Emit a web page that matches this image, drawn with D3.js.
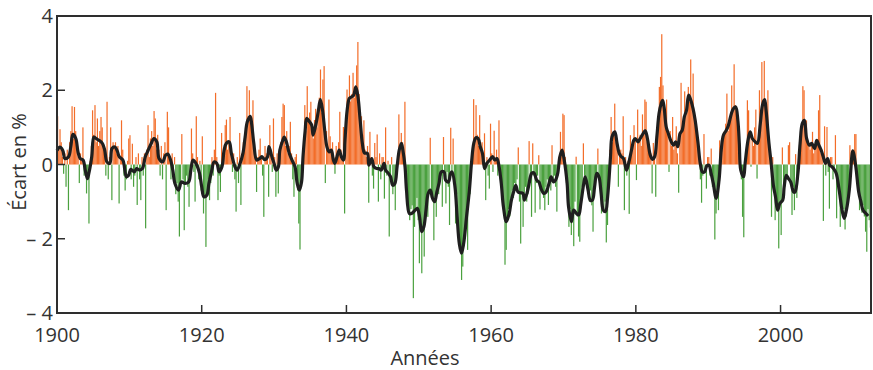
<!DOCTYPE html>
<html>
<head>
<meta charset="utf-8">
<script src="https://cdn.jsdelivr.net/npm/d3@7"></script>
<style>
  body { margin: 0; background: #fff; }
  text { font-family: "Open Sans", sans-serif; fill: #333; }
</style>
</head>
<body>
<div id="chart"></div>
<script>
// ticks
const xTicks = [1900, 1920, 1940, 1960, 1980, 2000];
const yTicks = [-4, -2, 0, 2, 4];

// bimonthly deviations (6 bars per year, from 1900), one line per year
const barStart = 1900;
const barsPerYear = 6;
const barValues = [
  1.30, 0.40, 0.95, 0.60, 0.20, -0.25,
  0.30, -0.60, 0.40, -1.23, 0.60, 0.90,
  1.57, 0.70, 1.55, 0.90, 0.40, 0.20,
  -0.50, 0.30, 0.10, 1.00, -0.30, -0.10,
  -0.78, -0.40, -1.59, 0.10, 0.50, 1.46,
  0.80, 1.60, 0.60, 1.24, 0.50, 0.90,
  1.28, 1.00, 0.40, 0.20, -0.30, 1.69,
  -0.40, 0.20, 1.00, -0.96, 0.60, 0.50,
  0.60, 0.30, 0.50, -1.05, 0.20, 1.19,
  0.40, -0.30, -0.70, -0.40, 0.10, 0.70,   // 1909
  0.79, -0.40, 0.56, -0.60, -0.30, 0.20,
  -1.09, 0.30, -0.40, -0.96, 0.20, -0.30,
  0.30, -1.72, 0.40, 1.06, 0.20, 0.70,
  0.90, 0.50, 1.44, 1.24, 0.40, 0.80,
  0.40, -0.30, 0.50, -0.40, 0.30, 0.60,
  -1.23, 1.42, 1.00, 0.20, -0.40, 0.30,
  -0.40, 0.20, -0.80, -0.50, -1.00, -1.94,
  -0.60, 0.82, -0.40, -1.77, -0.50, -0.30,
  -0.60, -1.14, -0.20, 0.97, 0.30, -0.20,
  -1.00, 1.30, 0.20, -0.40, 0.10, -0.70,   // 1919
  0.76, -1.32, -0.90, -2.22, -0.80, -0.40,
  -0.96, -0.50, 0.20, -0.30, 0.40, 1.93,
  0.20, -0.96, -0.30, -0.74, 0.85, 0.30,
  0.30, 1.06, 1.21, 0.40, 0.60, 1.28,
  0.50, -0.20, 0.30, -0.40, -1.27, 0.20,
  -0.50, 0.85, -1.09, 0.30, 0.60, 0.40,
  0.90, 2.11, 1.30, 2.00, 1.20, 0.90,
  1.73, 0.60, 0.30, -0.74, 0.20, 0.40,
  0.70, 0.20, -0.30, -1.41, 0.50, 0.30,
  0.30, -0.87, 1.06, 0.40, -0.20, 1.24,   // 1929
  0.20, -0.87, 0.30, -0.78, 0.40, 0.60,
  1.28, 1.64, 1.60, 0.50, 0.90, 0.30,
  0.50, 1.15, 0.30, -0.40, -0.87, 0.20,
  0.28, -0.70, -1.59, -2.29, -0.60, 0.10,
  0.40, 1.60, 0.90, 2.11, 1.20, 1.40,
  1.69, 1.00, 0.70, 1.20, 1.50, 1.00,
  1.50, 1.80, 2.56, 1.40, 2.29, 2.65,
  -0.50, 0.90, 0.40, 1.75, 0.76, 0.30,
  0.60, 0.20, -0.25, 0.50, 0.30, 0.60,
  1.42, 0.40, 0.20, 1.01, -1.32, 0.80,   // 1939
  2.02, 1.60, 2.40, 1.70, 1.90, 2.47,
  1.80, 2.10, 2.67, 3.30, 1.90, 1.40,
  1.30, 0.80, 1.19, 0.40, 0.20, 0.50,
  -1.03, 0.88, 0.20, -0.30, -0.65, 0.58,
  0.20, 0.81, -1.00, 0.30, -0.40, 0.20,
  0.20, -0.92, 1.00, -0.30, 0.10, -1.94,
  -0.40, 0.20, -0.80, -0.60, -1.23, -0.20,
  0.30, 1.35, 0.40, 0.85, 0.60, 0.20,
  1.69, -0.60, -0.90, -1.20, -1.50, -1.20,
  -1.10, -3.60, -1.68, -1.20, -0.90, -1.50,   // 1949
  -2.66, -1.50, -2.93, -1.70, -2.48, -1.30,
  -1.00, -1.41, -0.70, 0.72, -0.90, -0.80,
  -2.04, -0.90, -1.41, -0.60, -0.80, -0.30,
  -0.30, -1.14, 0.74, -0.40, -1.05, -0.20,
  -0.60, -1.63, 0.99, -0.30, 0.70, -0.50,
  -1.59, -0.80, -1.50, -1.90, -2.30, -3.11,
  -2.75, -2.20, -2.00, -1.50, -2.30, -0.90,
  -0.80, -0.20, 0.30, 1.76, 0.60, 1.60,
  0.80, 0.50, 1.33, 0.40, 0.60, 0.20,
  0.84, -0.96, 0.20, -0.30, -0.65, 1.10,   // 1959
  0.30, -0.20, 0.91, 0.10, 0.40, -0.30,
  1.19, -0.40, -0.60, -1.00, -1.30, -2.70,
  -2.30, -1.50, -1.20, -1.40, -0.90, -0.70,
  -0.90, -0.50, -0.70, -0.40, 0.46, -1.00,
  -2.13, -0.80, -1.68, -0.90, -0.60, -1.00,
  -0.80, 0.63, -0.50, -1.41, 0.57, -0.30,
  -1.30, -0.50, -0.30, 0.25, -1.21, -0.60,
  -0.70, -0.90, -1.23, -0.60, -0.40, -1.09,
  -0.40, -0.70, 0.52, -0.50, -0.30, -0.60,
  -1.27, -0.30, 0.20, 0.88, 0.40, 1.37,   // 1969
  1.33, 0.20, -0.50, -0.80, -1.68, -1.20,
  -1.90, -1.30, -2.20, -1.00, 0.21, -1.40,
  -1.94, -2.08, -1.00, -0.60, 0.57, -0.30,
  -0.40, -0.60, -0.80, -1.00, -0.70, -1.10,
  -1.81, -0.70, -0.50, -0.30, 0.43, -0.40,
  -0.60, -1.32, -0.90, -1.20, -1.00, -2.10,
  -1.63, -0.30, 0.40, 1.28, 0.60, 0.90,
  1.64, 0.60, 0.50, -0.60, 0.30, 0.40,
  0.30, 1.30, -1.23, 0.20, -0.30, 0.10,
  -1.33, 0.79, 0.40, 0.60, 1.06, 0.70,   // 1979
  -0.42, 1.48, 0.60, 0.80, 0.50, 1.35,
  0.80, 1.75, 1.69, 0.60, 0.40, 0.30,
  0.30, -0.78, 0.58, 0.20, -0.87, 0.90,
  1.20, 2.09, 2.36, 3.51, 2.13, 1.50,
  1.00, 1.75, 0.80, -0.20, 0.90, 0.50,
  1.28, 0.40, 0.60, 1.03, 0.30, -0.76,
  0.80, 2.20, 0.90, 1.20, 1.97, 1.30,
  1.40, 2.09, 1.70, 2.83, 1.60, 2.45,
  1.30, 1.19, 0.80, 0.50, 0.20, -0.40,
  -1.03, -0.30, 0.82, -0.20, -0.65, 0.20,   // 1989
  0.20, -0.30, 0.43, -0.60, -0.40, -2.02,
  -1.32, -0.60, -1.23, 0.65, 0.40, 0.60,
  0.70, 0.90, 1.10, 1.91, 0.90, 1.20,
  1.30, 2.13, 1.50, 2.70, 1.60, 1.40,
  1.30, 0.50, 0.20, -0.40, -1.41, -1.96,
  -0.20, 0.40, 1.73, 1.46, 0.80, -0.06,
  0.70, 0.50, 1.00, 1.48, -0.38, 0.60,
  2.00, 1.30, 2.76, 1.60, 2.79, 1.40,
  1.20, 2.00, 0.60, 0.30, -1.41, 0.20,
  -0.60, -1.50, -0.90, -1.10, -2.26, -1.00,   // 1999
  -1.90, 0.46, -0.90, -0.60, -0.30, -0.40,
  0.52, 0.60, -0.50, -1.36, -0.60, -1.23,
  0.28, -0.90, -0.40, 0.30, 0.70, 0.90,
  2.11, 2.00, 1.00, 1.19, 0.60, 0.50,
  0.40, 0.60, 0.88, 0.30, 0.50, 0.67,
  0.60, 1.46, 1.87, 0.30, 0.40, -1.52,
  1.03, -0.30, 1.01, -0.20, -1.19, 0.20,
  0.20, -0.40, -0.20, 0.79, -1.45, -0.50,
  -0.80, -1.68, -1.10, -1.30, -1.20, -1.75,
  -1.40, -1.10, -0.70, 0.52, 0.20, 0.40,   // 2009
  0.30, 0.82, 0.82, -0.50, -0.70, -1.23,
  -0.90, -1.30, -1.10, -1.40, -1.81, -2.35,
  -1.20, -1.50, -1.70
];

// smoothed curve [year, value]
const smoothed = [
  [1900.0,0.38],[1900.4,0.47],[1900.8,0.38],[1901.1,0.16],[1901.6,0.21],[1901.9,0.47],
  [1902.2,0.81],[1902.6,0.70],[1902.9,0.34],[1903.2,0.16],[1903.6,0.12],[1903.9,-0.15],
  [1904.2,-0.38],[1904.4,-0.24],[1904.8,0.21],[1905.1,0.74],[1905.4,0.70],[1905.9,0.64],
  [1906.3,0.56],[1906.6,0.38],[1906.9,0.07],[1907.3,0.03],[1907.6,0.43],[1908.0,0.47],
  [1908.3,0.38],[1908.6,0.21],[1909.1,0.12],[1909.6,-0.33],[1909.9,-0.29],[1910.2,-0.13],
  [1910.7,-0.20],[1911.0,-0.11],[1911.4,-0.15],[1911.8,-0.11],[1912.2,0.21],[1912.5,0.34],
  [1913.0,0.56],[1913.4,0.70],[1913.8,0.61],[1914.1,0.16],[1914.6,0.07],[1915.0,0.25],
  [1915.3,0.28],[1915.7,0.12],[1916.0,-0.15],[1916.3,-0.51],[1916.8,-0.69],[1917.2,-0.47],
  [1917.7,-0.51],[1918.2,-0.47],[1918.5,-0.15],[1918.8,0.12],[1919.2,0.03],[1919.7,-0.24],
  [1920.0,-0.60],[1920.3,-0.87],[1920.7,-0.83],[1921.0,-0.51],[1921.4,-0.15],[1921.7,0.07],
  [1922.1,0.03],[1922.4,-0.20],[1922.8,-0.06],[1923.1,0.39],[1923.4,0.57],[1923.8,0.61],
  [1924.1,0.30],[1924.6,-0.06],[1924.9,-0.15],[1925.3,0.03],[1925.7,0.30],[1926.0,0.74],
  [1926.3,1.15],[1926.7,1.30],[1926.9,1.10],[1927.2,0.57],[1927.6,0.12],[1928.0,0.16],
  [1928.3,0.21],[1928.7,0.13],[1929.1,0.21],[1929.3,0.48],[1929.7,0.21],[1930.0,0.03],
  [1930.3,-0.15],[1930.6,-0.06],[1930.8,0.39],[1931.2,0.65],[1931.4,0.74],[1931.7,0.61],
  [1932.1,0.30],[1932.6,0.07],[1932.9,-0.06],[1933.2,-0.51],[1933.5,-0.69],[1933.8,-0.47],
  [1934.0,0.21],[1934.3,0.92],[1934.5,1.24],[1934.9,1.15],[1935.2,1.06],[1935.4,0.79],
  [1935.8,1.10],[1936.1,1.42],[1936.4,1.75],[1936.7,1.46],[1937.0,0.92],[1937.3,0.48],
  [1937.6,0.34],[1937.9,0.39],[1938.2,0.12],[1938.4,0.03],[1938.7,0.21],[1939.0,0.39],
  [1939.3,0.21],[1939.6,0.12],[1939.8,0.65],[1940.1,1.46],[1940.4,1.78],[1940.7,1.82],
  [1941.0,1.87],[1941.3,2.09],[1941.6,1.82],[1941.9,1.19],[1942.2,0.57],[1942.5,0.31],
  [1942.9,0.30],[1943.1,-0.02],[1943.5,0.16],[1943.8,-0.06],[1944.2,-0.11],[1944.5,-0.11],
  [1944.8,-0.15],[1945.2,0.03],[1945.4,-0.15],[1945.8,-0.24],[1946.1,-0.33],[1946.4,-0.56],
  [1946.7,-0.51],[1947.0,-0.06],[1947.3,0.39],[1947.6,0.57],[1947.8,0.39],[1948.1,-0.06],
  [1948.3,-0.69],[1948.7,-1.32],[1949.0,-1.32],[1949.5,-1.23],[1949.8,-1.18],[1950.1,-1.41],
  [1950.4,-1.81],[1950.7,-1.68],[1951.0,-1.23],[1951.3,-0.78],[1951.6,-0.69],[1951.9,-0.91],
  [1952.2,-1.00],[1952.5,-0.74],[1952.8,-0.51],[1953.1,-0.20],[1953.5,-0.20],[1953.7,-0.42],
  [1954.1,-0.47],[1954.4,-0.24],[1954.6,-0.20],[1955.0,-0.60],[1955.3,-1.41],[1955.6,-2.13],
  [1955.9,-2.39],[1956.2,-2.13],[1956.6,-1.41],[1957.0,-0.69],[1957.3,0.07],[1957.6,0.57],
  [1957.9,0.72],[1958.2,0.70],[1958.5,0.48],[1958.8,0.30],[1959.1,-0.11],[1959.4,0.03],
  [1959.8,0.12],[1960.2,0.21],[1960.5,0.12],[1960.8,0.16],[1961.1,-0.06],[1961.4,-0.51],
  [1961.7,-1.14],[1962.1,-1.54],[1962.5,-1.32],[1962.8,-0.96],[1963.1,-0.74],[1963.4,-0.56],
  [1963.7,-0.74],[1964.0,-0.76],[1964.4,-0.78],[1964.6,-0.96],[1965.0,-0.74],[1965.2,-0.56],
  [1965.6,-0.24],[1965.9,-0.22],[1966.3,-0.42],[1966.6,-0.47],[1966.9,-0.65],[1967.3,-0.78],
  [1967.6,-0.74],[1968.0,-0.51],[1968.3,-0.33],[1968.6,-0.47],[1968.9,-0.42],[1969.2,-0.24],
  [1969.5,0.21],[1969.8,0.39],[1970.1,0.12],[1970.5,-0.51],[1970.7,-1.14],[1971.1,-1.54],
  [1971.4,-1.23],[1971.8,-1.32],[1972.1,-1.36],[1972.4,-1.05],[1972.8,-0.51],[1973.0,-0.33],
  [1973.4,-0.69],[1973.7,-0.96],[1974.0,-0.96],[1974.3,-0.60],[1974.6,-0.24],[1974.9,-0.33],
  [1975.2,-0.78],[1975.5,-1.23],[1975.8,-1.27],[1976.1,-0.87],[1976.5,0.21],[1976.7,0.74],
  [1977.1,0.88],[1977.4,0.57],[1977.7,0.30],[1978.0,0.21],[1978.3,0.16],[1978.7,-0.15],
  [1979.0,0.03],[1979.4,0.39],[1979.7,0.65],[1979.9,0.70],[1980.3,0.61],[1980.6,0.70],
  [1981.0,0.83],[1981.3,0.91],[1981.6,0.70],[1982.0,0.25],[1982.3,0.14],[1982.6,0.21],
  [1982.9,0.74],[1983.2,1.37],[1983.5,1.64],[1983.7,1.73],[1983.9,1.55],[1984.2,1.01],
  [1984.5,0.83],[1984.9,0.61],[1985.2,0.52],[1985.5,0.61],[1985.8,0.48],[1986.1,0.83],
  [1986.4,0.92],[1986.7,1.28],[1987.0,1.46],[1987.3,1.87],[1987.6,1.73],[1987.9,1.51],
  [1988.2,1.19],[1988.6,0.57],[1988.9,0.03],[1989.2,-0.20],[1989.5,-0.20],[1989.8,-0.04],
  [1990.1,-0.02],[1990.4,-0.24],[1990.7,-0.51],[1991.1,-0.91],[1991.5,-0.42],[1991.8,0.39],
  [1992.1,0.79],[1992.5,0.92],[1992.8,1.06],[1993.2,1.37],[1993.5,1.51],[1993.8,1.55],
  [1994.1,1.19],[1994.3,0.57],[1994.5,-0.15],[1994.9,-0.33],[1995.1,0.03],[1995.5,0.65],
  [1995.8,0.88],[1996.1,0.70],[1996.5,0.61],[1996.8,0.57],[1997.2,1.10],[1997.5,1.60],
  [1997.8,1.75],[1998.0,1.46],[1998.4,0.57],[1998.7,0.03],[1999.0,-0.55],[1999.3,-0.87],
  [1999.6,-1.23],[1999.9,-1.05],[2000.3,-0.96],[2000.5,-0.60],[2000.8,-0.29],[2001.1,-0.38],
  [2001.4,-0.47],[2001.8,-0.74],[2002.0,-0.74],[2002.4,-0.24],[2002.7,0.57],[2003.0,1.10],
  [2003.3,1.19],[2003.6,0.70],[2004.0,0.52],[2004.3,0.57],[2004.7,0.43],[2005.0,0.65],
  [2005.3,0.52],[2005.6,0.39],[2005.9,0.21],[2006.2,0.03],[2006.5,0.16],[2006.8,-0.02],
  [2007.1,-0.06],[2007.4,-0.13],[2007.7,-0.24],[2008.1,-0.69],[2008.5,-1.23],[2008.8,-1.45],
  [2009.1,-1.23],[2009.5,-0.69],[2009.9,0.30],[2010.0,0.37],[2010.4,-0.06],[2010.8,-0.74],
  [2011.1,-1.00],[2011.4,-1.23],[2011.8,-1.32],[2012.1,-1.39]
];

const W = 873, H = 370;
const margin = { left: 57, top: 16, right: 2, bottom: 57 };
const fontSize = 20;

const svg = d3.select("#chart").append("svg")
  .attr("width", W)
  .attr("height", H);

const x = d3.scaleLinear().domain([1900, 2012.5]).range([margin.left, W - margin.right]);
const y = d3.scaleLinear().domain([-4, 4]).range([H - margin.bottom, margin.top]);

const step = 1 / barsPerYear;
const bars = barValues.map((v, i) => ({ t: barStart + i * step, v: v }));

// bars
svg.append("g")
  .selectAll("rect")
  .data(bars)
  .enter().append("rect")
  .attr("x", d => x(d.t))
  .attr("width", d => x(d.t + step) - x(d.t))
  .attr("y", d => Math.min(y(d.v), y(0)))
  .attr("height", d => Math.abs(y(d.v) - y(0)))
  .attr("fill", d => d.v >= 0 ? "#f36d29" : "#4ba13f");

// smoothed line
const line = d3.line()
  .x(d => x(d[0]))
  .y(d => y(d[1]))
  .curve(d3.curveCatmullRom);

svg.append("path")
  .datum(smoothed)
  .attr("d", line)
  .attr("fill", "none")
  .attr("stroke", "#1f1f1f")
  .attr("stroke-width", 3.2)
  .attr("stroke-linejoin", "round");

// frame
svg.append("rect")
  .attr("x", x(1900))
  .attr("y", y(4))
  .attr("width", x(2012.5) - x(1900))
  .attr("height", y(-4) - y(4))
  .attr("fill", "none")
  .attr("stroke", "#2e2e2e")
  .attr("stroke-width", 2);

// ticks inside
svg.append("g").selectAll("line")
  .data(yTicks.filter(d => d > -4 && d < 4))
  .enter().append("line")
  .attr("x1", x(1900)).attr("x2", x(1900) + 8)
  .attr("y1", d => y(d)).attr("y2", d => y(d))
  .attr("stroke", "#2e2e2e").attr("stroke-width", 1.5);

svg.append("g").selectAll("line")
  .data(xTicks.filter(d => d > 1900))
  .enter().append("line")
  .attr("x1", d => x(d)).attr("x2", d => x(d))
  .attr("y1", y(-4)).attr("y2", y(-4) - 8)
  .attr("stroke", "#2e2e2e").attr("stroke-width", 1.5);

// tick labels
svg.append("g").selectAll("text")
  .data(yTicks)
  .enter().append("text")
  .attr("x", x(1900) - 4)
  .attr("y", d => y(d))
  .attr("dy", "0.36em")
  .attr("text-anchor", "end")
  .style("font-size", fontSize + "px")
  .text(d => d < 0 ? "\u2013 " + Math.abs(d) : d);

svg.append("g").selectAll("text")
  .data(xTicks)
  .enter().append("text")
  .attr("x", d => x(d))
  .attr("y", 342)
  .attr("text-anchor", "middle")
  .style("font-size", fontSize + "px")
  .text(d => d);

// axis titles
svg.append("text")
  .attr("x", 425)
  .attr("y", 365)
  .attr("text-anchor", "middle")
  .style("font-size", fontSize + "px")
  .text("Années");

svg.append("text")
  .attr("transform", "translate(26,162) rotate(-90)")
  .attr("text-anchor", "middle")
  .style("font-size", fontSize + "px")
  .text("Écart en %");
</script>
</body>
</html>
